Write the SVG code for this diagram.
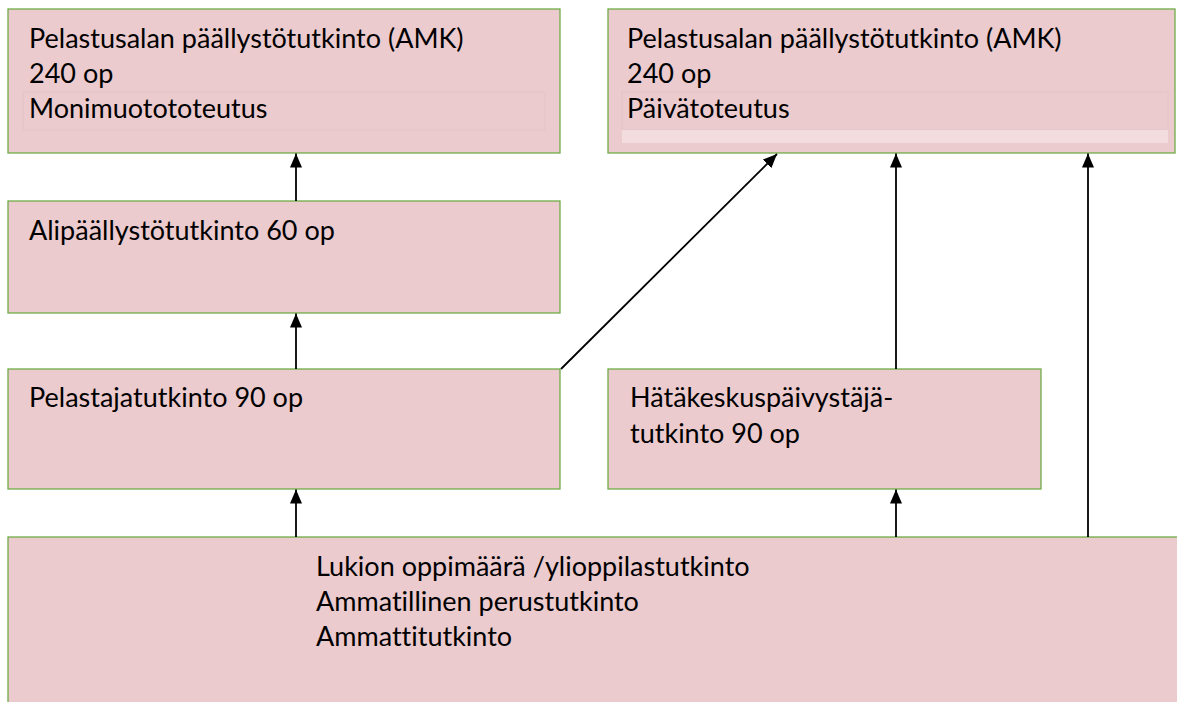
<svg xmlns="http://www.w3.org/2000/svg" width="1177" height="702" viewBox="0 0 1177 702">
  <defs>
    <style>
      .box { fill: #EBCBCE; stroke: #70AD47; stroke-width: 1.3; }
      .faint { fill: none; stroke: #E5C4C7; stroke-width: 1; }
      .bar { fill: #F2DCDE; stroke: none; }
      .t { font-family: Lato, "Liberation Sans", sans-serif; font-size: 27px; fill: #000; font-variant-ligatures: none; }
      .c { stroke: #000; stroke-width: 1.8; fill: none; marker-end: url(#ah); }
    </style>
    <marker id="ah" markerUnits="userSpaceOnUse" markerWidth="14" markerHeight="16" viewBox="0 0 14 16" refX="14" refY="6" orient="auto">
      <path d="M0,0 L14,6 L0,12 Z" fill="#000"/>
    </marker>
  </defs>
  <rect width="1177" height="702" fill="#fff"/>

  <g id="node-amk-monimuoto">
    <rect class="box" x="8" y="9" width="552" height="144"/>
    <rect class="faint" x="23" y="92" width="522" height="38"/>
    <text class="t" x="29" y="48">Pelastusalan päällystötutkinto (AMK)</text>
    <text class="t" x="29" y="83">240 op</text>
    <text class="t" x="29" y="118">Monimuotototeutus</text>
  </g>

  <g id="node-amk-paiva">
    <rect class="box" x="608" y="9" width="567" height="144"/>
    <rect class="faint" x="622" y="92" width="546" height="38"/>
    <rect class="bar" x="622" y="130" width="546" height="13"/>
    <text class="t" x="627" y="48">Pelastusalan päällystötutkinto (AMK)</text>
    <text class="t" x="627" y="83">240 op</text>
    <text class="t" x="627" y="118">Päivätoteutus</text>
  </g>

  <g id="node-alipaallysto">
    <rect class="box" x="8" y="201" width="552" height="112"/>
    <text class="t" x="29" y="240">Alipäällystötutkinto 60 op</text>
  </g>

  <g id="node-pelastaja">
    <rect class="box" x="8" y="369" width="552" height="120"/>
    <text class="t" x="29" y="407">Pelastajatutkinto 90 op</text>
  </g>

  <g id="node-hatakeskus">
    <rect class="box" x="608" y="369" width="433" height="120"/>
    <text class="t" x="630" y="407">Hätäkeskuspäivystäjä-</text>
    <text class="t" x="630" y="443">tutkinto 90 op</text>
  </g>

  <g id="node-pohja">
    <rect class="box" x="8" y="537" width="1180" height="180"/>
    <text class="t" x="316" y="576">Lukion oppimäärä /ylioppilastutkinto</text>
    <text class="t" x="316" y="611">Ammatillinen perustutkinto</text>
    <text class="t" x="316" y="646">Ammattitutkinto</text>
  </g>

  <g id="connectors">
    <line class="c" x1="296" y1="201" x2="296" y2="153.5"/>
    <line class="c" x1="296" y1="369" x2="296" y2="313.5"/>
    <line class="c" x1="296" y1="537" x2="296" y2="489.5"/>
    <line class="c" x1="561" y1="369" x2="777" y2="154"/>
    <line class="c" x1="896" y1="369" x2="896" y2="153.5"/>
    <line class="c" x1="896" y1="537" x2="896" y2="489.5"/>
    <line class="c" x1="1088" y1="537" x2="1088" y2="153.5"/>
  </g>
</svg>
